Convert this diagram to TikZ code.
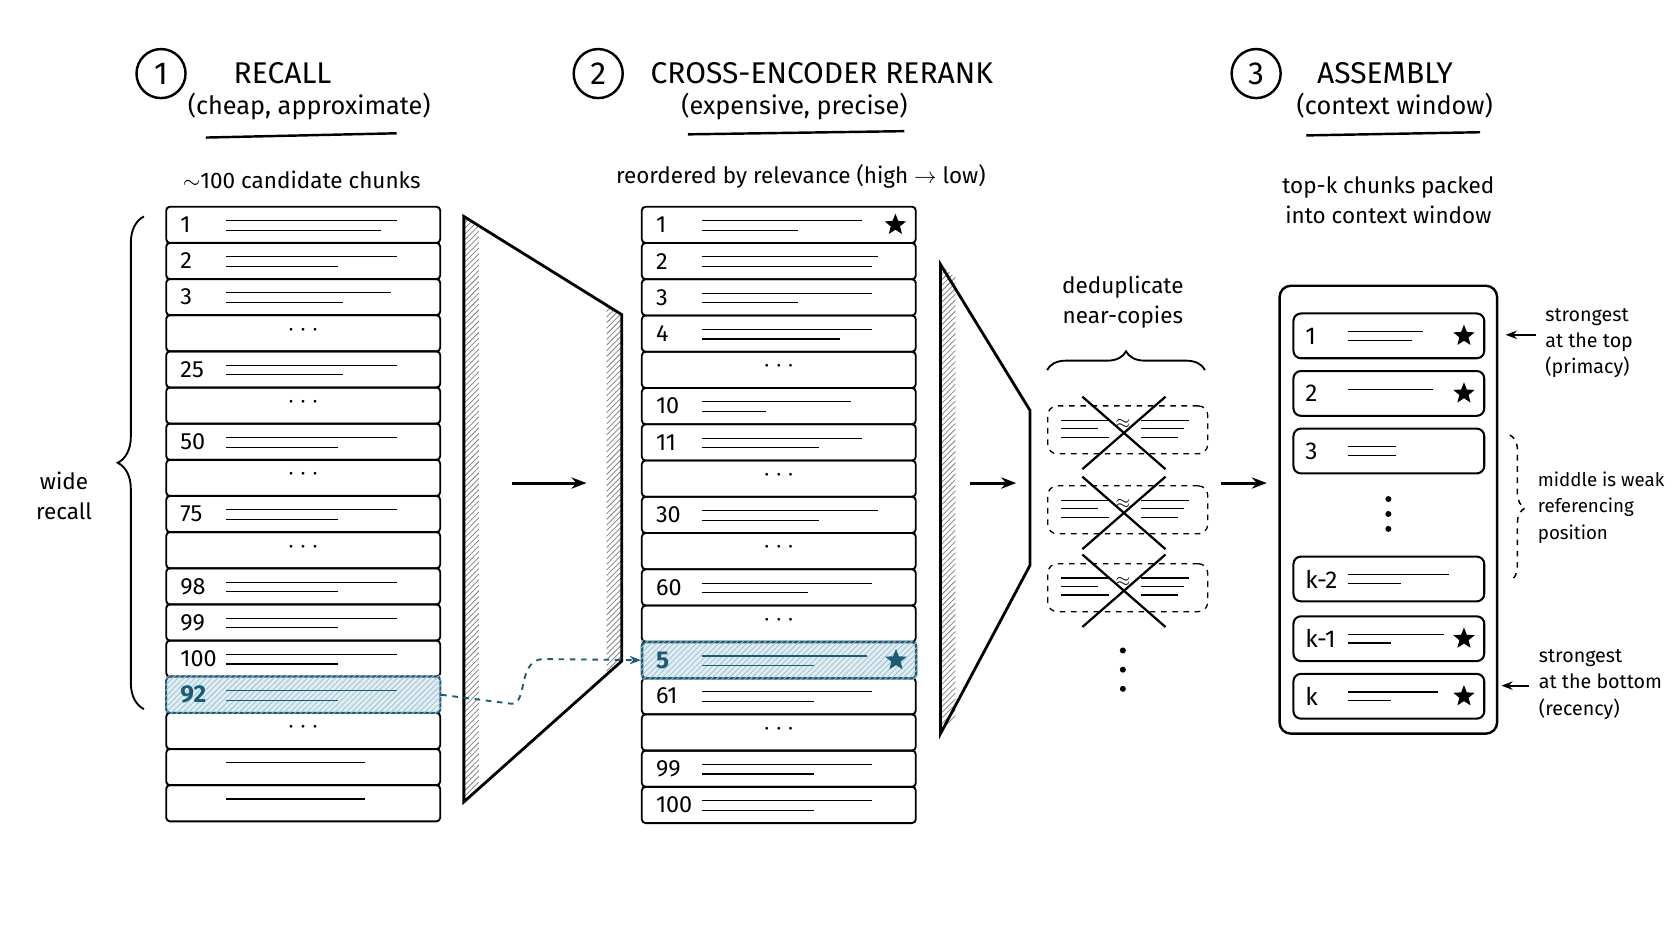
\documentclass[tikz,border=0pt]{standalone}
\usepackage{fontspec}
\setmainfont{Fira Sans}
\usepackage{tikz}
\usetikzlibrary{calc, shapes.geometric, positioning, patterns, decorations.pathreplacing, arrows.meta}
\definecolor{teal}{RGB}{26,92,120}
\definecolor{hlfill}{RGB}{222,238,244}
\tikzset{
  row/.style={draw, line width=1pt, rounded corners=2pt, anchor=north west, minimum width=5.14cm, minimum height=0.68cm, inner sep=0pt},
  slot/.style={draw, line width=1.1pt, rounded corners=4pt, anchor=north west, minimum width=3.58cm, minimum height=0.84cm, inner sep=0pt},
  dupe/.style={draw, dashed, line width=0.7pt, rounded corners=5pt, anchor=north west, minimum width=3cm, minimum height=0.9cm},
  txt/.style={font=\fontsize{12}{16}\selectfont, align=center},
  note/.style={align=left, anchor=west, font=\fontsize{10.5}{14}\selectfont},
  num/.style={font=\fontsize{12.5}{14}\selectfont, anchor=west},
  head/.style={font=\fontsize{16}{19}\selectfont},
  sub/.style={font=\fontsize{13.5}{16}\selectfont},
  circ/.style={draw, circle, line width=1.3pt, minimum size=0.92cm, font=\fontsize{17}{20}\selectfont},
  thin/.style={line width=0.6pt},
  starry/.style={star, star points=5, star point ratio=2.3, fill=black, inner sep=0pt, minimum size=0.42cm},
  flow/.style={-{Stealth[length=8pt]}, line width=1.6pt},
  hatch/.style={pattern=north east lines, pattern color=gray}
}
\newcommand\chunkrow[6]{% name, x, y, label, line1, line2
  \node[row] (#1) at (#2,#3) {};
  \ifnum#5=0
    \node at ($(#1.center)+(0,-3)$) {\Large$\cdots$};
  \else
    \node[num] at ($(#1.west)+(8,0)$) {#4};
    \draw[thin] ($(#1.west)+(57,-4)$) -- ++(#5,0);
    \ifnum#6>0 \draw[thin] ($(#1.west)+(57,5)$) -- ++(#6,0);\fi
  \fi}
\begin{document}
\begin{tikzpicture}[x=0.02cm, y=-0.02cm]
\useasboundingbox (0,0) rectangle (1568,882);

% headings
\node[circ] (n1) at (151,69) {1};
\node[head, anchor=west] (h1) at (213,69) {RECALL};
\node[sub] (s1) at (290,100) {(cheap, approximate)};
\draw[line width=1.3pt] (193,129) -- (372,125);
\node[circ] (n2) at (561,69) {2};
\node[head, anchor=west] (h2) at (604,69) {CROSS-ENCODER RERANK};
\node[sub] (s2) at (745,100) {(expensive, precise)};
\draw[line width=1.3pt] (645,126) -- (848,123);
\node[circ] (n3) at (1178,69) {3};
\node[head, anchor=west] (h3) at (1229,69) {ASSEMBLY};
\node[sub] (s3) at (1308,99) {(context window)};
\draw[line width=1.3pt] (1225,127) -- (1388,124);

\node[txt] (t1) at (283,169) {$\sim$100 candidate chunks};
\node[txt] (t2) at (751,165) {reordered by relevance (high $\rightarrow$ low)};
\node[txt] (t3) at (1302,188) {top-k chunks packed\\into context window};

% column 1: recall
\foreach \lab/\la/\lb [count=\i from 0] in {1/160/145, 2/160/105, 3/155/110, d/0/0, 25/160/110, d/0/0, 50/160/105, d/0/0, 75/160/105, d/0/0, 98/160/105, 99/160/105, 100/160/105, 92/160/105, d/0/0, {}/130/0, {}/130/0}
  \chunkrow{c1-\i}{155}{193+\i*33.9}{\lab}{\la}{\lb};
\node[row, fill=hlfill, draw=teal] (hl1) at (155,193+13*33.9) {};
\fill[pattern=north east lines, pattern color=teal!40] (hl1.north west) rectangle (hl1.south east);
\node[num, text=teal, font=\bfseries\fontsize{13}{16}\selectfont] at ($(hl1.west)+(8,0)$) {92};
\draw[thin, teal] ($(hl1.west)+(57,-4)$) -- ++(160,0) ($(hl1.west)+(57,5)$) -- ++(105,0);

% brace
\draw[line width=1pt, decorate, decoration={brace, amplitude=14pt}] (135,665) -- (135,203);
\node[txt] (wr) at (60,465) {wide\\recall};

% funnel 1
\fill[hatch] (435,203) -- (449,213) -- (449,742) -- (435,752) -- cycle;
\fill[hatch] (569,285) -- (583,295) -- (583,620) -- (569,630) -- cycle;
\draw[line width=1.5pt] (435,203) -- (583,295) -- (583,620) -- (435,752) -- cycle;
\coordinate (a1s) at (480,453);
\coordinate (a1e) at (550,453);
\draw[flow] (a1s) -- (a1e);

% column 2: rerank
\foreach \lab/\la/\lb [count=\i from 0] in {1/150/90, 2/165/160, 3/160/90, 4/160/130, d/0/0, 10/140/60, 11/150/110, d/0/0, 30/165/110, d/0/0, 60/160/100, d/0/0, 5/160/105, 61/160/105, d/0/0, 99/160/105, 100/160/105}
  \chunkrow{c2-\i}{601}{193+\i*34}{\lab}{\la}{\lb};
\node[row, fill=hlfill, draw=teal, line width=1.3pt] (hl2) at (601,193+12*34) {};
\fill[pattern=north east lines, pattern color=teal!40] (hl2.north west) rectangle (hl2.south east);
\node[num, text=teal, font=\bfseries\fontsize{13}{16}\selectfont] at ($(hl2.west)+(8,0)$) {5};
\draw[thin, teal] ($(hl2.west)+(57,-4)$) -- ++(155,0) ($(hl2.west)+(57,5)$) -- ++(105,0);
\node[starry, fill=teal] at ($(hl2.east)+(-20,0)$) {};
\node[starry] at ($(c2-0.east)+(-20,0)$) {};
\draw[dashed, teal, line width=1pt, -{Stealth[length=6pt]}] (hl1.east) -- (480,660) .. controls (495,660) and (485,618) .. (510,618) -- (hl2.west);

% funnel 2
\fill[hatch] (882,248) -- (896,260) -- (896,676) -- (882,688) -- cycle;
\draw[line width=1.5pt] (882,248) -- (966,385) -- (966,530) -- (882,688) -- cycle;
\coordinate (a2s) at (910,453);
\coordinate (a2e) at (953,453);
\draw[flow] (a2s) -- (a2e);

% dedupe
\node[txt] (dd) at (1053,283) {deduplicate\\near-copies};
\draw[line width=1pt, decorate, decoration={brace, amplitude=10pt}] (982,347) -- (1130,347);
\foreach \yy [count=\j] in {380,455,528} {
  \node[dupe] (d\j) at (982,\yy) {};
  \draw[thin] (995,\yy+14) -- ++(45,0) (995,\yy+22) -- ++(35,0) (995,\yy+30) -- ++(45,0);
  \draw[thin] (1070,\yy+14) -- ++(45,0) (1070,\yy+22) -- ++(40,0) (1070,\yy+30) -- ++(35,0);
  \node at (1053,\yy+18) {$\approx$};
  \draw[line width=1.2pt] (1015,\yy-8) -- (1093,\yy+60) (1093,\yy-8) -- (1015,\yy+60);
}
\foreach \yy in {610,628,646} \fill (1053,\yy) circle (1.6pt);
\coordinate (a3s) at (1145,453);
\coordinate (a3e) at (1188,453);
\draw[flow] (a3s) -- (a3e);

% assembly
\draw[line width=1.3pt, rounded corners=6pt] (1200,268) rectangle (1404,688);
\foreach \lab/\yy/\la/\lb/\st [count=\j] in {1/293/70/60/1, 2/347/80/0/1, 3/401/45/45/0, k-2/521/95/50/0, k-1/577/90/40/1, k/631/85/40/1} {
  \node[slot] (p\j) at (1212,\yy) {};
  \node[num, font=\fontsize{13}{16}\selectfont] at ($(p\j.west)+(6,0)$) {\lab};
  \draw[thin] ($(p\j.west)+(52,-4)$) -- ++(\la,0);
  \ifnum\lb>0 \draw[thin] ($(p\j.west)+(52,4)$) -- ++(\lb,0);\fi
  \ifnum\st=1 \node[starry] at ($(p\j.east)+(-20,0)$) {};\fi
}
\foreach \yy in {468,482,496} \fill (1302,\yy) circle (1.6pt);

% annotations
\node[note] (pr) at (1443,322) {strongest\\at the top\\(primacy)};
\coordinate (prt) at (1412,314);
\draw[-{Stealth[length=6pt]}, line width=1pt] (1440,314) -- (prt);
\draw[dashed, line width=0.8pt, decorate, decoration={brace, amplitude=8pt}] (1416,408) -- (1416,545);
\node[note, font=\fontsize{10}{14}\selectfont] (mw) at (1436,476) {middle is weak\\referencing\\position};
\node[note] (rc) at (1437,642) {strongest\\at the bottom\\(recency)};
\coordinate (rct) at (1408,643);
\draw[-{Stealth[length=6pt]}, line width=1pt] (1434,643) -- (rct);
\end{tikzpicture}
\end{document}
